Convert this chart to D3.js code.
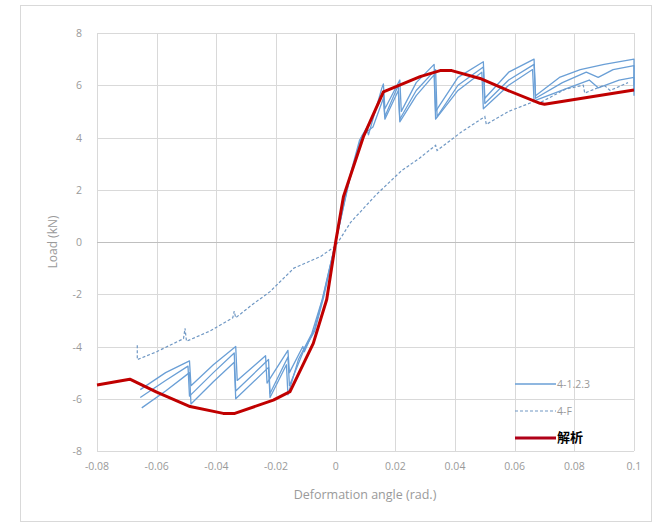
<!DOCTYPE html>
<html><head><meta charset="utf-8">
<script src="https://cdn.jsdelivr.net/npm/d3@7"></script>
<style>body{margin:0;background:#fff}svg{display:block}</style>
</head><body>
<svg id="c" width="656" height="526"></svg>
<script>
const xTicks = [-0.08,-0.06,-0.04,-0.02,0,0.02,0.04,0.06,0.08,0.1];
const xTickLabels = ["-0.08","-0.06","-0.04","-0.02","0","0.02","0.04","0.06","0.08","0.1"];
const yTicks = [-8,-6,-4,-2,0,2,4,6,8];
const seriesNames = ["4-1.2.3","4-F","解析"];

const test1 = [[-0.0655,-5.65],[-0.057,-5.0],[-0.049,-4.55],[-0.0485,-5.5],[-0.041,-4.7],[-0.0335,-4.0],[-0.033,-5.3],[-0.0235,-4.35],[-0.023,-5.4],[-0.016,-4.15],[-0.0155,-5.0],[-0.011,-4.0],[-0.0105,-4.2],[-0.007,-3.3],[-0.004,-2.0],[0,0],[0.004,2.2],[0.008,3.9],[0.0105,4.3],[0.011,4.1],[0.0155,5.9],[0.016,6.05],[0.0165,5.1],[0.0215,6.2],[0.022,5.0],[0.027,6.1],[0.033,6.8],[0.0335,5.0],[0.041,6.3],[0.0495,6.9],[0.05,5.5],[0.058,6.5],[0.0665,7.0],[0.067,5.6],[0.075,6.3],[0.082,6.6],[0.09,6.8],[0.1,7.0],[0.1,6.0]];
const test2 = [[-0.0655,-5.95],[-0.057,-5.3],[-0.0495,-4.75],[-0.049,-5.9],[-0.041,-5.0],[-0.034,-4.25],[-0.0335,-5.7],[-0.0225,-4.5],[-0.022,-5.8],[-0.016,-4.4],[-0.0155,-5.5],[-0.0105,-4.1],[-0.007,-3.4],[-0.004,-2.1],[0,0],[0.004,2.1],[0.0085,4.0],[0.0115,4.6],[0.016,5.7],[0.0165,4.8],[0.021,6.0],[0.0215,4.7],[0.027,5.8],[0.0335,6.6],[0.034,4.8],[0.041,6.0],[0.0495,6.7],[0.05,5.3],[0.058,6.2],[0.0665,6.8],[0.067,5.5],[0.076,6.1],[0.084,6.5],[0.088,6.3],[0.093,6.6],[0.1,6.75],[0.1,5.8]];
const test3 = [[-0.065,-6.35],[-0.057,-5.7],[-0.049,-5.0],[-0.0485,-6.2],[-0.041,-5.35],[-0.034,-4.6],[-0.0335,-6.0],[-0.0225,-4.8],[-0.022,-5.95],[-0.0165,-4.7],[-0.016,-5.85],[-0.0125,-4.5],[-0.008,-3.5],[-0.0045,-2.2],[0,0],[0.0045,2.3],[0.009,4.1],[0.0125,4.4],[0.016,5.5],[0.0165,4.7],[0.021,5.8],[0.0215,4.6],[0.027,5.6],[0.033,6.4],[0.0335,4.7],[0.041,5.8],[0.049,6.5],[0.0495,5.1],[0.058,6.0],[0.066,6.6],[0.0665,5.4],[0.078,5.9],[0.085,6.2],[0.088,5.9],[0.095,6.2],[0.1,6.3],[0.1,5.6]];
const testF = [[-0.0665,-3.95],[-0.0665,-4.5],[-0.06,-4.2],[-0.051,-3.7],[-0.0505,-3.3],[-0.05,-3.8],[-0.042,-3.4],[-0.0345,-2.9],[-0.034,-2.65],[-0.0335,-2.9],[-0.028,-2.4],[-0.022,-1.9],[-0.014,-1.0],[-0.005,-0.55],[0,-0.15],[0.005,0.75],[0.0135,1.8],[0.022,2.72],[0.028,3.2],[0.0335,3.7],[0.034,3.5],[0.042,4.2],[0.05,4.8],[0.0505,4.5],[0.058,5.0],[0.067,5.4],[0.068,5.3],[0.077,5.85],[0.083,6.0],[0.0835,5.7],[0.09,6.0],[0.092,5.8],[0.098,6.1]];
const analysis = [[-0.08,-5.47],[-0.069,-5.25],[-0.06,-5.75],[-0.0488,-6.3],[-0.0377,-6.56],[-0.0338,-6.56],[-0.0209,-6.05],[-0.0153,-5.73],[-0.0075,-3.88],[-0.003,-2.2],[0,0],[0.0026,1.73],[0.0093,4.03],[0.0115,4.6],[0.016,5.75],[0.0283,6.33],[0.035,6.56],[0.0389,6.56],[0.0484,6.26],[0.0573,5.82],[0.0685,5.31],[0.07,5.27],[0.1,5.82]];

const svg = d3.select("#c");
svg.append("rect").attr("x",20.5).attr("y",5.5).attr("width",631).attr("height",516)
  .attr("fill","#fff").attr("stroke","#d9d9d9");

const L=97, R=634, T=33, B=451;
const x = d3.scaleLinear().domain([-0.08,0.1]).range([L,R]);
const y = d3.scaleLinear().domain([-8,8]).range([B,T]);

const g = svg.append("g");
g.selectAll(".vg").data(xTicks).join("line")
  .attr("x1",d=>Math.round(x(d))+0.5).attr("x2",d=>Math.round(x(d))+0.5)
  .attr("y1",T).attr("y2",B).attr("stroke",d=>d===0?"#bfbfbf":"#d9d9d9").attr("stroke-width",1);
g.selectAll(".hg").data(yTicks).join("line")
  .attr("y1",d=>Math.round(y(d))+0.5).attr("y2",d=>Math.round(y(d))+0.5)
  .attr("x1",L).attr("x2",R).attr("stroke",d=>d===0?"#bfbfbf":"#d9d9d9").attr("stroke-width",1);

const font = "'Open Sans', 'Liberation Sans', sans-serif";
const tc = "#9a9a9a";
svg.append("g").selectAll("text").data(xTicks).join("text")
  .attr("x",d=>x(d)).attr("y",470).attr("text-anchor","middle")
  .attr("font-family",font).attr("font-size",10.5).attr("fill",tc)
  .text((d,i)=>xTickLabels[i]);
svg.append("g").selectAll("text").data(yTicks).join("text")
  .attr("x",82).attr("y",d=>y(d)+4).attr("text-anchor","end")
  .attr("font-family",font).attr("font-size",10.5).attr("fill",tc)
  .text(d=>d);

svg.append("text").attr("x",365).attr("y",499).attr("text-anchor","middle")
  .attr("font-family",font).attr("font-size",12.5).attr("fill",tc)
  .text("Deformation angle (rad.)");
svg.append("text").attr("transform","translate(57,242) rotate(-90)").attr("text-anchor","middle")
  .attr("font-family",font).attr("font-size",12).attr("fill",tc)
  .text("Load (kN)");

const line = d3.line().x(d=>x(d[0])).y(d=>y(d[1]));
const blue = "#6a9fd6";
[test3,test2,test1].forEach(s=>{
  svg.append("path").datum(s).attr("d",line).attr("fill","none")
    .attr("stroke",blue).attr("stroke-width",1.3).attr("stroke-linejoin","round");
});
svg.append("path").datum(testF).attr("d",line).attr("fill","none")
  .attr("stroke","#7098c4").attr("stroke-width",1.2).attr("stroke-dasharray","3,2");
svg.append("path").datum(analysis).attr("d",line).attr("fill","none")
  .attr("stroke","#c00000").attr("stroke-width",3).attr("stroke-linejoin","round");

// legend
const lg = svg.append("g");
const ly = [384, 411, 438];
const lstyle = [{c:blue,w:1.3,d:null},{c:"#7098c4",w:1.2,d:"3,2"},{c:"#b00018",w:3.2,d:null}];
seriesNames.forEach((n,i)=>{
  lg.append("line").attr("x1",515).attr("x2",556).attr("y1",ly[i]).attr("y2",ly[i])
    .attr("stroke",lstyle[i].c).attr("stroke-width",lstyle[i].w).attr("stroke-dasharray",lstyle[i].d);
  lg.append("text").attr("x",557).attr("y",ly[i]+4)
    .attr("font-family", i===2 ? "'Noto Sans CJK JP', sans-serif" : font)
    .attr("font-size", i===2?13:10.5).attr("font-weight", i===2?"bold":"normal")
    .attr("fill", i===2?"#000":tc).text(n);
});
</script>
</body></html>
